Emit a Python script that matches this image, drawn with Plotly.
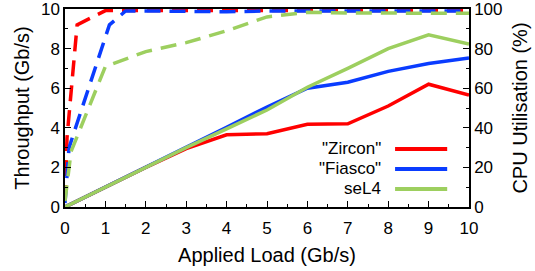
import plotly.graph_objects as go

# ---- data ----
load = [0, 1, 2, 3, 4, 5, 6, 7, 8, 9, 10]
zircon_tp = [0, 1, 2, 2.95, 3.65, 3.7, 4.18, 4.2, 5.1, 6.2, 5.65]
fiasco_tp = [0, 1, 2, 3, 4.02, 5.05, 6.0, 6.3, 6.85, 7.25, 7.52]
sel4_tp = [0, 1, 2, 3, 3.95, 4.9, 6.05, 7.0, 8.0, 8.7, 8.23]

zircon_cpu_load = [0, 0.05, 0.3, 1, 2, 3, 4, 5, 6, 7, 8, 9, 10]
zircon_cpu = [3, 35, 92, 99.2, 99.3, 99.3, 99.3, 99.3, 99.3, 99.3, 99.3, 99.3, 99.3]
fiasco_cpu_load = [0, 0.1, 1.1, 1.5, 2, 3, 4, 5, 6, 7, 8, 9, 10]
fiasco_cpu = [2, 30, 92, 99, 99, 98.7, 98.6, 99, 99, 98.6, 99, 98.8, 99]
sel4_cpu_load = [0, 0.15, 1, 2, 3, 4, 5, 6, 7, 8, 9, 10]
sel4_cpu = [3, 28, 71, 78.5, 83, 89, 96, 98.3, 98, 98, 97.8, 97.8]

names = ['"Zircon"', '"Fiasco"', 'seL4']
colors = ["#ff0000", "#0a3cff", "#9dcf5f"]

FONT = "Liberation Sans, Arial, sans-serif"
FS = 17

fig = go.Figure()

cpu_series = [(zircon_cpu_load, zircon_cpu), (fiasco_cpu_load, fiasco_cpu), (sel4_cpu_load, sel4_cpu)]
tp_series = [zircon_tp, fiasco_tp, sel4_tp]

for (xs, ys), name, c in zip(cpu_series, names, colors):
    fig.add_trace(go.Scatter(x=xs, y=ys, mode="lines", name=name + " CPU", yaxis="y2",
                             line=dict(color=c, width=3.5, dash="16px,9px"), showlegend=False))
for ys, name, c in zip(tp_series, names, colors):
    fig.add_trace(go.Scatter(x=load, y=ys, mode="lines", name=name,
                             line=dict(color=c, width=3.5), showlegend=False))

# legend drawn manually (text right-aligned, sample line on the right)
leg_y = [0.293, 0.192, 0.091]
for name, c, yy in zip(names, colors, leg_y):
    fig.add_annotation(x=0.787, y=yy, xref="paper", yref="paper", text=name,
                       showarrow=False, xanchor="right", yanchor="middle",
                       font=dict(size=FS, color="black", family=FONT))
    fig.add_shape(type="line", xref="paper", yref="paper", x0=0.817, x1=0.946,
                  y0=yy, y1=yy, line=dict(color=c, width=4))

common = dict(ticks="inside", ticklen=6, tickwidth=1, tickcolor="black", showline=True,
              linecolor="black", linewidth=1.5, showgrid=False, zeroline=False,
              automargin=False, tickfont=dict(size=FS), ticklabeloverflow="allow")

fig.update_layout(
    width=535, height=271,
    margin=dict(l=65, r=66, t=9, b=64),
    plot_bgcolor="white", paper_bgcolor="white",
    font=dict(family=FONT, size=FS, color="black"),
    xaxis=dict(range=[0, 10], dtick=1, tick0=0, mirror=True, ticklabelstandoff=5,
               minor=dict(dtick=0.5, ticks="inside", ticklen=3, tickcolor="black"),
               title=dict(text="Applied Load (Gb/s)", standoff=11), **common),
    yaxis=dict(range=[0, 10], dtick=2, tick0=0,
               minor=dict(dtick=1, ticks="inside", ticklen=3, tickcolor="black"),
               title=dict(text="Throughput (Gb/s)", standoff=6), **common),
    yaxis2=dict(range=[0, 100], dtick=20, tick0=0, overlaying="y", side="right",
                minor=dict(dtick=10, ticks="inside", ticklen=3, tickcolor="black"),
                title=dict(text="CPU Utilisation (%)", standoff=11), **common),
)

fig.write_html("out.html", config={"displayModeBar": False},
               post_script="document.body.style.margin='0';")
